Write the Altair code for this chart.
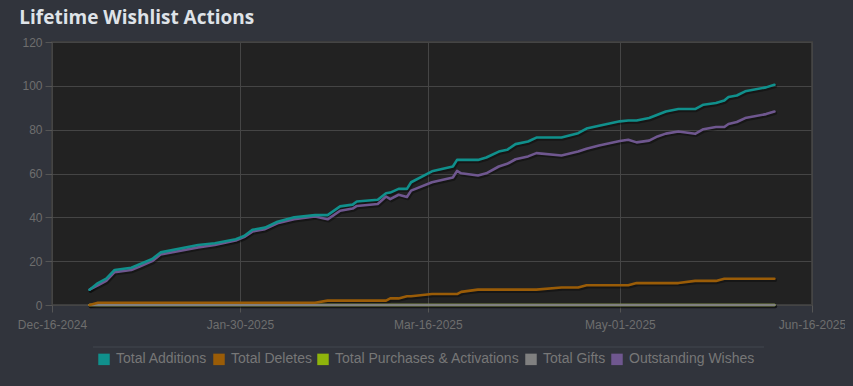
import altair as alt
import pandas as pd

# ---- data ----
dates = ["2024-12-25","2024-12-27","2024-12-29","2024-12-31","2025-01-04","2025-01-06","2025-01-09","2025-01-11",
         "2025-01-20","2025-01-24","2025-01-29","2025-01-31","2025-02-02","2025-02-05","2025-02-08","2025-02-12",
         "2025-02-17","2025-02-20","2025-02-23","2025-02-26","2025-02-27","2025-03-04","2025-03-06","2025-03-07",
         "2025-03-09","2025-03-11","2025-03-12","2025-03-17","2025-03-22","2025-03-23","2025-03-24","2025-03-28",
         "2025-03-30","2025-04-02","2025-04-04","2025-04-06","2025-04-09","2025-04-11","2025-04-17","2025-04-21",
         "2025-04-23","2025-04-26","2025-05-01","2025-05-03","2025-05-05","2025-05-08","2025-05-10","2025-05-12",
         "2025-05-15","2025-05-19","2025-05-21","2025-05-24","2025-05-26","2025-05-27","2025-05-29","2025-05-31",
         "2025-06-05","2025-06-07"]

total_additions = [7,10,12,16,17,18.6,21,24, 27.4,28.2,30,31.5,34.3,35.3,38,40,
                   41,41,45,45.8,47.2,48,51,51.3, 53,53,56,61,63.2,66.2,66.2,66.2,
                   67.3,70,70.8,73.4,74.6,76.4,76.4,78.4, 80.5,81.8,83.8,84.2,84.2,85.3,86.8,88.3,
                   89.4,89.4,91.4,92.2,93.3,94.9,95.6,97.5, 99.3,100.5]

total_deletes = [0,1,1,1,1,1,1,1, 1,1,1,1,1,1,1,1,
                 1,2,2,2,2,2,2,3, 3,4,4,5,5,5,6,7,
                 7,7,7,7,7,7,8,8, 9,9,9,9,10,10,10,10,
                 10,11,11,11,12,12,12,12, 12,12]

total_purchases = [0] * len(dates)
total_gifts = [0] * len(dates)

outstanding = [7,9,11,15,16,17.5,20,23, 26.3,27.4,29.4,31,33.5,34.6,37.3,39.1,
               40.4,39.1,43,44,45.2,46.1,49.5,48.3, 50.3,49.3,52.2,56,58.2,61.2,60.1,59.1,
               60.1,63.2,64.4,66.5,67.8,69.3,68.2,70, 71.3,72.8,74.8,75.4,74.2,75,76.9,78.2,
               79.2,78.1,80.2,81.2,81.2,82.6,83.5,85.3, 87.1,88.3]

series_names = ["Total Additions", "Total Deletes", "Total Purchases & Activations",
                "Total Gifts", "Outstanding Wishes"]
series_colors = ["#10908c", "#9a5c07", "#8fb40c", "#808080", "#6f578f"]

x_ticks = ["2024-12-16", "2025-01-30", "2025-03-16", "2025-05-01", "2025-06-16"]

# draw order: bottom first
draw_order = [
    ("Total Purchases & Activations", total_purchases),
    ("Total Gifts", total_gifts),
    ("Total Deletes", total_deletes),
    ("Outstanding Wishes", outstanding),
    ("Total Additions", total_additions),
]
rows = []
for name, vals in draw_order:
    for d, v in zip(dates, vals):
        rows.append({"date": d, "series": name, "value": v})
df = pd.DataFrame(rows)


def dt(s):
    y, m, d = (int(p) for p in s.split("-"))
    return alt.DateTime(year=y, month=m, date=d, utc=True)


x_enc = alt.X("date:T", title=None,
              scale=alt.Scale(type="utc", domain=[dt(x_ticks[0]), dt(x_ticks[-1])], nice=False),
              axis=alt.Axis(values=[dt(s) for s in x_ticks],
                            labelExpr="utcFormat(datum.value, '%b-%d-%Y')",
                            tickSize=7, labelPadding=7, labelFlush=False, labelOverlap=False))
y_enc = alt.Y("value:Q", title=None,
              scale=alt.Scale(domain=[0, 120], nice=False),
              axis=alt.Axis(values=[0, 20, 40, 60, 80, 100, 120], tickSize=7, labelPadding=3))

base = alt.Chart(df)

shadow = base.mark_line(color="#000000", opacity=0.35, strokeWidth=3.5, xOffset=1, yOffset=1.5,
                        strokeCap="round", strokeJoin="round").encode(
    x=x_enc, y=y_enc, detail="series:N")

lines = base.mark_line(strokeWidth=2.6, strokeCap="round", strokeJoin="round").encode(
    x=x_enc, y=y_enc,
    color=alt.Color("series:N", scale=alt.Scale(domain=series_names, range=series_colors),
                    legend=alt.Legend(title=None, orient="none", direction="horizontal",
                                      legendX=45, legendY=310, columns=5,
                                      symbolType="square", symbolSize=20, symbolStrokeWidth=7,
                                      symbolOpacity=1, labelLimit=0,
                                      labelFont="Liberation Sans", labelFontSize=14,
                                      labelColor="#777777", labelOffset=5, columnPadding=-6)),
)

sep = alt.Chart(pd.DataFrame({"k": [0]})).mark_rule(color="#42464e", strokeWidth=1).encode(
    x=alt.value(41), x2=alt.value(712), y=alt.value(305))

chart = alt.layer(shadow, lines, sep).properties(
    width=760, height=263,
    title=alt.TitleParams("Lifetime Wishlist Actions", anchor="start", dx=2, dy=25, offset=18,
                          baseline="alphabetic", font="Open Sans", fontSize=19, fontWeight="bold",
                          color="#dfe3e8"),
    autosize=alt.AutoSizeParams(type="none"),
    padding={"left": 44, "top": 34, "right": 33, "bottom": 70},
    background="#31343c",
).configure_view(
    fill="#222222", stroke="#3d3d3d", strokeWidth=2
).configure_axis(
    labelFont="Liberation Sans", labelFontSize=12, labelColor="#6e6e6e",
    gridColor="#454545", gridWidth=1, tickColor="#555555", domain=False
)

try:
    import altair.utils.html as _ah
    _orig = _ah.TEMPLATES["standard"]

    class _Tpl:
        def render(self, *a, **k):
            return _orig.render(*a, **k).replace(
                "</head>", "<style>html,body{background:#31343c;}</style></head>", 1)

    _ah.TEMPLATES["standard"] = _Tpl()
except Exception:
    pass

chart.save("out.html", embed_options={"renderer": "svg", "actions": False})
